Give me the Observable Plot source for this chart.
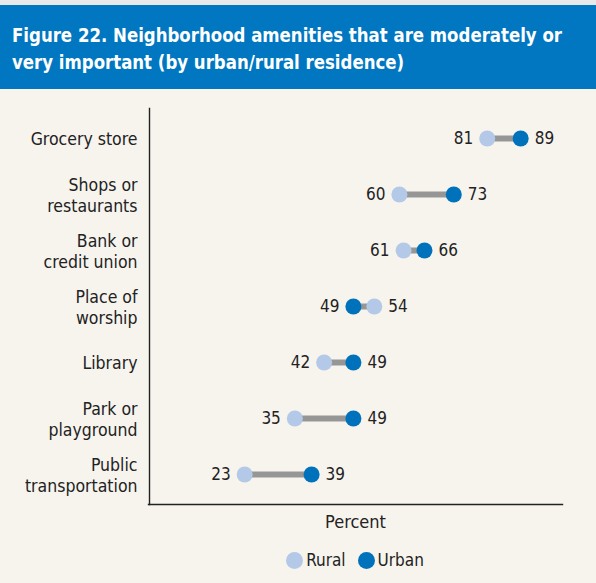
<!DOCTYPE html>
<html>
<head>
<meta charset="utf-8">
<script src="https://cdn.jsdelivr.net/npm/d3@7"></script>
<script src="https://cdn.jsdelivr.net/npm/@observablehq/plot@0.6"></script>
<style>
  html, body { margin: 0; padding: 0; background: #f7f4ee; }
  body { width: 596px; font-family: "DejaVu Sans", sans-serif; font-stretch: condensed; }
  #top { height: 5px; background: #e9e9e9; }
  #banner { background: #0077c0; color: #fff; height: 84px; box-sizing: border-box;
    padding: 17px 0 0 12px; font-weight: bold; font-size: 20px; line-height: 27px; white-space: nowrap; }
  #banner .t { display: inline-block; transform-origin: 0 0; }
  #chart svg { display: block; }
  #legend { display: flex; justify-content: center; align-items: center; padding: 0 34px 0 148px;
    height: 38px; font-size: 17px; color: #222; gap: 12px; }
  .key { display: flex; align-items: center; gap: 3px; }
  .sw { width: 17px; height: 17px; border-radius: 50%; display: inline-block; }
</style>
</head>
<body>
<div id="top"></div>
<div id="banner"><span class="t">Figure 22. Neighborhood amenities that are moderately or<br>very important (by urban/rural residence)</span></div>
<div id="chart"></div>
<div id="legend"></div>
<script>
const categories = ["Grocery store", "Shops or\nrestaurants", "Bank or\ncredit union", "Place of\nworship", "Library", "Park or\nplayground", "Public\ntransportation"];
const rural = [81, 60, 61, 54, 42, 35, 23];
const urban = [89, 73, 66, 49, 49, 49, 39];
const seriesNames = ["Rural", "Urban"];
const colors = {Rural: "#b3c9e7", Urban: "#0072bc"};

const pairs = categories.map((c, i) => ({cat: c, rural: rural[i], urban: urban[i],
  lo: Math.min(rural[i], urban[i]), hi: Math.max(rural[i], urban[i])}));
const dots = categories.flatMap((c, i) => [
  {cat: c, series: "Rural", value: rural[i]},
  {cat: c, series: "Urban", value: urban[i]}
]);

const font = '"DejaVu Sans", sans-serif';

const chart = Plot.plot({
  width: 596,
  height: 452,
  marginLeft: 148,
  marginRight: 34,
  marginTop: 19,
  marginBottom: 37,
  style: {background: "transparent", fontFamily: font, fontStretch: "condensed", fontSize: "17px", color: "#222"},
  x: {domain: [0, 99], axis: null},
  y: {type: "point", domain: categories, range: [46.7, 386.7], padding: 0, label: null},
  color: {domain: seriesNames, range: seriesNames.map(s => colors[s])},
  marks: [
    Plot.axisY({tickSize: 0, tickPadding: 11, fontSize: 17.5, lineHeight: 1.2, label: null, fill: "#222"}),
    Plot.frame({anchor: "left", stroke: "#222", strokeWidth: 1.4, dx: 1}),
    Plot.frame({anchor: "bottom", stroke: "#222", strokeWidth: 1.4}),
    Plot.ruleY(pairs, {y: "cat", x1: "lo", x2: "hi", stroke: "#969696", strokeWidth: 6}),
    Plot.dot(dots, {x: "value", y: "cat", fill: "series", r: 8}),
    Plot.text(pairs, {x: "lo", y: "cat", text: d => String(d.lo), textAnchor: "end", dx: -14, fontSize: 17, fill: "#222"}),
    Plot.text(pairs, {x: "hi", y: "cat", text: d => String(d.hi), textAnchor: "start", dx: 14, fontSize: 17, fill: "#222"}),
    Plot.text(["Percent"], {frameAnchor: "bottom", dy: 23, text: d => d, fontSize: 18, fill: "#222"})
  ]
});
document.getElementById("chart").appendChild(chart);

const legend = document.getElementById("legend");
seriesNames.forEach(s => {
  const k = document.createElement("span");
  k.className = "key";
  const sw = document.createElement("span");
  sw.className = "sw";
  sw.style.background = colors[s];
  k.appendChild(sw);
  k.appendChild(document.createTextNode(s));
  legend.appendChild(k);
});

// fit title lines to reference width
const t = document.querySelector("#banner .t");
const w = t.getBoundingClientRect().width;
t.style.transform = `scaleX(${550 / w})`;
</script>
</body>
</html>
